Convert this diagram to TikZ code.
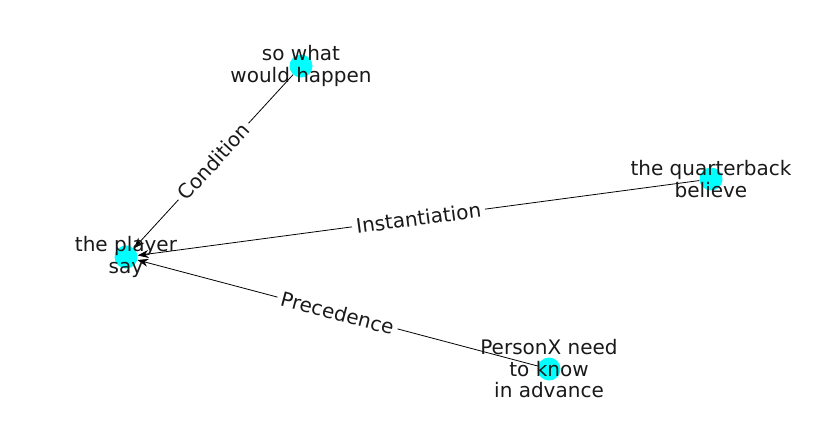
\documentclass[tikz,border=0pt]{standalone}
\usepackage{fontspec}
\setmainfont{DejaVu Sans}
\usetikzlibrary{arrows.meta}
\definecolor{nodeCyan}{HTML}{00FFFF}
\begin{document}
\begin{tikzpicture}
        [x=1pt, y=-1pt,
        node/.style={circle, fill=nodeCyan, minimum size=23pt, inner sep=0pt},
        nodeText/.style={align=center, font=\fontsize{20}{21.5}\selectfont, text=black!90},
        edgeLabel/.style={midway, sloped, fill=white, inner sep=4pt, font=\fontsize{20}{21.5}\selectfont, text=black!90}]
        \useasboundingbox (0,0) rectangle (837,434);
        \node[node] (S) at (126,257) {};
        \node[node] (W) at (301,66) {};
        \node[node] (Q) at (711,179) {};
        \node[node] (P) at (549,369) {};
        
        \draw[-{Stealth[length=11pt,width=8pt]}, line width=0.8pt] (W) -- (S) node[edgeLabel] {Condition};
        \draw[-{Stealth[length=11pt,width=8pt]}, line width=0.8pt] (Q) -- (S) node[edgeLabel] {Instantiation};
        \draw[-{Stealth[length=11pt,width=8pt]}, line width=0.8pt] (P) -- (S) node[edgeLabel] {Precedence};
        
        \node[nodeText] (St) at (S) {the player\\say};
        \node[nodeText] (Wt) at (W) {so what\\would happen};
        \node[nodeText] (Qt) at (Q) {the quarterback\\believe};
        \node[nodeText] (Pt) at (P) {PersonX need\\to know\\in advance};
    
    \end{tikzpicture}
\end{document}
